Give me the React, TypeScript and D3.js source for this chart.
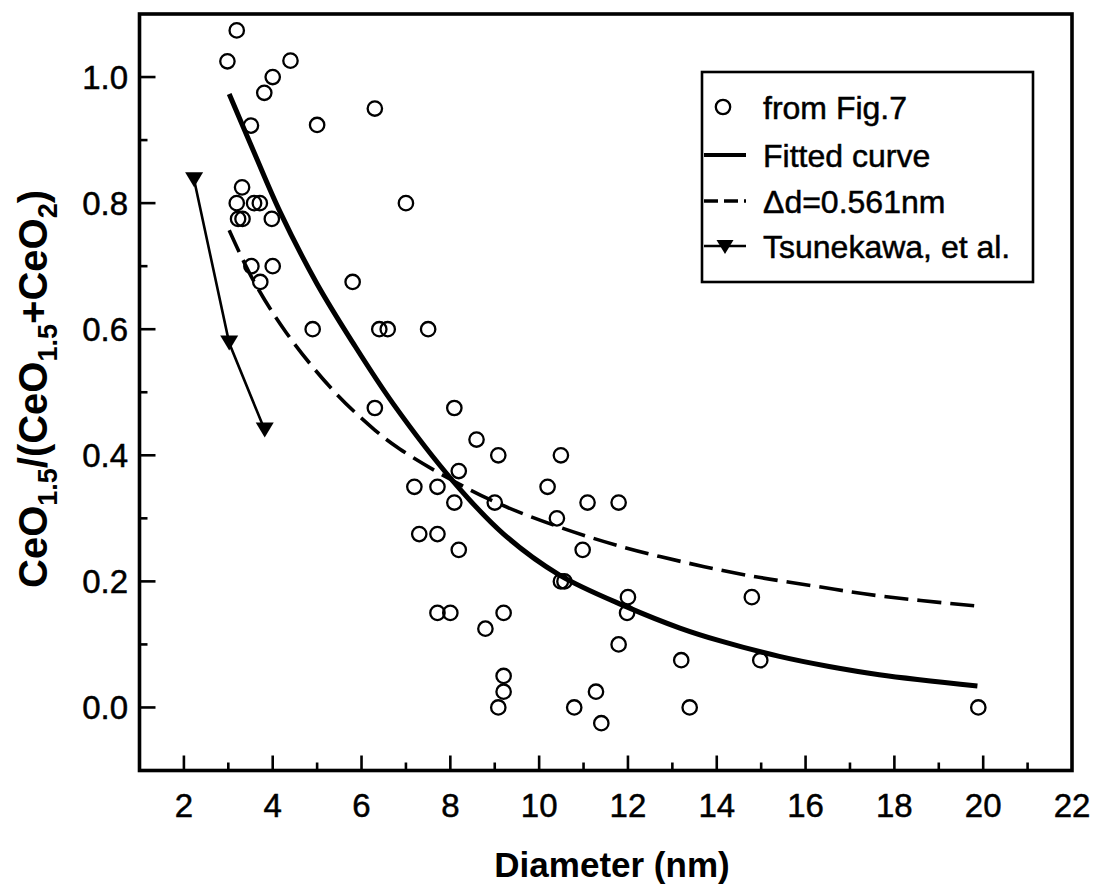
import React from 'react';
import * as d3 from 'd3';

// circles "from Fig.7": [diameter, ratio]
const figSevenX = [
  3.19, 2.98, 4.4, 4.0, 3.81, 6.3, 3.51, 5.0, 3.31, 3.19, 3.58, 3.71, 7.0, 3.22, 3.32, 3.98,
  3.52, 4.0, 3.72, 5.8, 4.9, 6.4, 6.59, 7.5, 6.3, 8.09, 8.59, 9.08, 10.49, 8.19, 7.19, 7.71,
  10.19, 8.09, 9.0, 11.09, 11.79, 10.4, 7.3, 7.71, 8.19, 10.98, 10.49, 10.57, 12.0, 11.98,
  7.71, 8.0, 9.2, 8.79, 11.79, 13.2, 9.2, 9.2, 11.28, 9.08, 10.79, 13.39, 11.4, 14.79, 14.98, 19.89,
];
const figSevenY = [
  1.074, 1.025, 1.026, 1.0, 0.975, 0.95, 0.923, 0.924, 0.825, 0.8, 0.8, 0.8, 0.8, 0.775, 0.775, 0.775,
  0.7, 0.7, 0.675, 0.675, 0.6, 0.6, 0.6, 0.6, 0.475, 0.475, 0.425, 0.4, 0.4, 0.375, 0.35, 0.35,
  0.35, 0.325, 0.325, 0.325, 0.325, 0.3, 0.275, 0.275, 0.25, 0.25, 0.2, 0.2, 0.175, 0.15,
  0.15, 0.15, 0.15, 0.125, 0.1, 0.075, 0.05, 0.025, 0.025, 0.0, 0.0, 0.0, -0.025, 0.175, 0.075, 0.0,
];

// fitted curve
const fitX = [3.02, 3.56, 4.16, 4.99, 5.81, 6.71, 8.05, 9.2, 10.46, 11.96, 13.17, 14.06, 15.41, 16.53, 17.66, 19.87];
const fitY = [0.973, 0.884, 0.787, 0.673, 0.578, 0.482, 0.36, 0.275, 0.21, 0.16, 0.126, 0.106, 0.081, 0.065, 0.052, 0.034];

// Δd=0.561nm curve
const deltaX = [3.02, 3.56, 4.31, 5.36, 6.3, 6.86, 8.05, 9.1, 10.46, 11.81, 13.23, 14.66, 16.16, 17.66, 19.83];
const deltaY = [0.757, 0.678, 0.594, 0.503, 0.44, 0.41, 0.36, 0.323, 0.286, 0.256, 0.231, 0.21, 0.193, 0.177, 0.161];

// Tsunekawa, et al.
const tsuX = [2.23, 3.02, 3.82];
const tsuY = [0.837, 0.578, 0.44];

const xTicks = [2, 4, 6, 8, 10, 12, 14, 16, 18, 20, 22];
const xMinor = [3, 5, 7, 9, 11, 13, 15, 17, 19, 21];
const yTicks = [0.0, 0.2, 0.4, 0.6, 0.8, 1.0];
const yMinor = [0.1, 0.3, 0.5, 0.7, 0.9];

const legendLabels = ['from Fig.7', 'Fitted curve', '\u0394d=0.561nm', 'Tsunekawa, et al.'];

const W = 1098;
const H = 894;
const FONT = '"Liberation Sans", Arial, Helvetica, sans-serif';

export default function App() {
  const x = d3.scaleLinear().domain([1, 22]).range([139.5, 1072]);
  const y = d3.scaleLinear().domain([-0.1, 1.1]).range([770.5, 14]);
  const [x0, x1] = x.range();
  const [y0, y1] = y.range();

  const line = d3.line<[number, number]>()
    .x(d => x(d[0]))
    .y(d => y(d[1]))
    .curve(d3.curveCatmullRom.alpha(0.5));
  const straight = d3.line<[number, number]>().x(d => x(d[0])).y(d => y(d[1]));

  const fitPts = fitX.map((v, i) => [v, fitY[i]] as [number, number]);
  const deltaPts = deltaX.map((v, i) => [v, deltaY[i]] as [number, number]);
  const tsuPts = tsuX.map((v, i) => [v, tsuY[i]] as [number, number]);

  const tri = (cx: number, cy: number, w = 18, h = 15) =>
    `M${cx - w / 2},${cy - h / 2}L${cx + w / 2},${cy - h / 2}L${cx},${cy + h / 2}Z`;

  // legend geometry
  const lgX = 702, lgY = 72, lgW = 331, lgH = 210;
  const rowY = [107, 155, 201, 246];
  const sampleA = 704, sampleB = 746, sampleMid = 725, textX = 763;

  const thick = { stroke: '#000', strokeWidth: 0.5 };

  return (
    <div style={{ position: 'absolute', left: 0, top: 0 }}>
      <svg width={W} height={H} style={{ display: 'block', background: '#fff' }} fontFamily={FONT}>
        {/* curves */}
        <path d={line(deltaPts) || ''} fill="none" stroke="#000" strokeWidth={3.6} strokeDasharray="24 9" />
        <path d={line(fitPts) || ''} fill="none" stroke="#000" strokeWidth={5} />
        <path d={straight(tsuPts) || ''} fill="none" stroke="#000" strokeWidth={2.6} />
        {tsuPts.map((d, i) => (
          <path key={'t' + i} d={tri(x(d[0]), y(d[1]))} fill="#000" />
        ))}

        {/* scatter */}
        {figSevenX.map((v, i) => (
          <circle key={'c' + i} cx={x(v)} cy={y(figSevenY[i])} r={7.2} fill="none" stroke="#000" strokeWidth={2.3} />
        ))}

        {/* frame */}
        <rect x={x0} y={y1} width={x1 - x0} height={y0 - y1} fill="none" stroke="#000" strokeWidth={3.6} />

        {/* x ticks */}
        {xTicks.filter(t => t < 22).map(t => (
          <line key={'xt' + t} x1={x(t)} x2={x(t)} y1={y0} y2={y0 - 15} stroke="#000" strokeWidth={2.6} />
        ))}
        {xMinor.map(t => (
          <line key={'xm' + t} x1={x(t)} x2={x(t)} y1={y0} y2={y0 - 8} stroke="#000" strokeWidth={2.6} />
        ))}
        {xTicks.map(t => (
          <text key={'xl' + t} x={x(t)} y={817} textAnchor="middle" fontSize={33} fill="#000" {...thick}>{t}</text>
        ))}

        {/* y ticks */}
        {yTicks.map(t => (
          <line key={'yt' + t} x1={x0} x2={x0 + 16} y1={y(t)} y2={y(t)} stroke="#000" strokeWidth={2.6} />
        ))}
        {yMinor.map(t => (
          <line key={'ym' + t} x1={x0} x2={x0 + 8} y1={y(t)} y2={y(t)} stroke="#000" strokeWidth={2.6} />
        ))}
        {yTicks.map(t => (
          <text key={'yl' + t} x={128} y={y(t)} dy="0.36em" textAnchor="end" fontSize={33} fill="#000" {...thick}>
            {d3.format('.1f')(t)}
          </text>
        ))}

        {/* axis titles */}
        <text x={612} y={877} textAnchor="middle" fontSize={35} fontWeight="bold" fill="#000">Diameter (nm)</text>
        <text transform="translate(47,389) rotate(-90)" textAnchor="middle" fontSize={40} fontWeight="bold" fill="#000">
          CeO<tspan fontSize={27} dy={10}>1.5</tspan>
          <tspan dy={-10}>/(CeO</tspan>
          <tspan fontSize={27} dy={10}>1.5</tspan>
          <tspan dy={-10}>+CeO</tspan>
          <tspan fontSize={27} dy={10}>2</tspan>
          <tspan dy={-10}>)</tspan>
        </text>

        {/* legend */}
        <rect x={lgX} y={lgY} width={lgW} height={lgH} fill="#fff" stroke="#000" strokeWidth={2.6} />
        <circle cx={sampleMid - 2} cy={rowY[0]} r={7.2} fill="none" stroke="#000" strokeWidth={2.3} />
        <line x1={sampleA} x2={sampleB} y1={rowY[1]} y2={rowY[1]} stroke="#000" strokeWidth={4} />
        <line x1={sampleA} x2={sampleB} y1={rowY[2]} y2={rowY[2]} stroke="#000" strokeWidth={3.4} strokeDasharray="14 6 14 6 3 40" />
        <line x1={sampleA} x2={sampleB} y1={rowY[3]} y2={rowY[3]} stroke="#000" strokeWidth={2.4} />
        <path d={tri(sampleMid, rowY[3] + 1, 17, 14)} fill="#000" />
        {legendLabels.map((l, i) => (
          <text key={'lg' + i} x={textX} y={rowY[i]} dy="0.36em" fontSize={32} fill="#000" {...thick}>{l}</text>
        ))}
      </svg>
    </div>
  );
}
